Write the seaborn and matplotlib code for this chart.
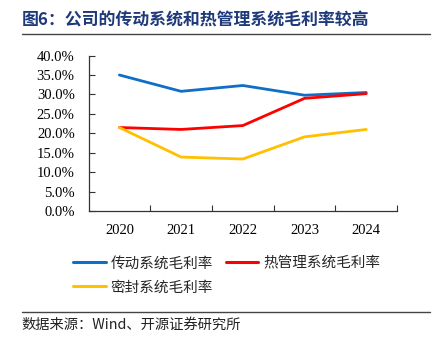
import matplotlib
matplotlib.use("Agg")
import matplotlib.pyplot as plt
from matplotlib.lines import Line2D
import pandas as pd
import seaborn as sns

years = ["2020", "2021", "2022", "2023", "2024"]
transmission = [35.0, 30.8, 32.3, 29.8, 30.5]
thermal = [21.5, 21.0, 22.0, 29.0, 30.2]
sealing = [21.5, 13.9, 13.4, 19.1, 21.0]

series_names = ["传动系统毛利率", "热管理系统毛利率", "密封系统毛利率"]
colors = ["#0F6FC6", "#FF0000", "#FFC000"]

df = pd.DataFrame({
    "year": years * 3,
    "value": [v / 100 for v in transmission + thermal + sealing],
    "series": [series_names[0]] * 5 + [series_names[1]] * 5 + [series_names[2]] * 5,
})

sns.set_theme(style="white")
plt.rcParams["font.family"] = ["Liberation Serif", "Noto Sans CJK SC", "DejaVu Sans"]

fig = plt.figure(figsize=(4.34, 3.45), dpi=100)
ax = fig.add_axes([0.204, 0.388, 0.711, 0.451])

sns.lineplot(data=df, x="year", y="value", hue="series", palette=colors,
             hue_order=series_names, linewidth=2.0, ax=ax, legend=False, sort=False)

ax.set_xlim(-0.5, 4.5)
ax.set_ylim(0, 0.4)
ax.set_yticks([i * 0.05 for i in range(9)])
ax.set_yticklabels([f"{i * 5:.1f}%" for i in range(9)], fontsize=10.5,
                   family="Liberation Serif")
ax.set_xticks(range(5))
ax.set_xticklabels(years, fontsize=10.5, family="Liberation Serif")
ax.set_xticks([0.5, 1.5, 2.5, 3.5, 4.5], minor=True)
ax.tick_params(axis="x", which="major", length=0, pad=9, colors="black")
ax.tick_params(axis="x", which="minor", direction="in", length=4, width=0.8,
               color="#333333", bottom=True)
ax.tick_params(axis="y", direction="in", length=4, width=0.8, color="#333333",
               left=True, pad=10, labelcolor="black")
ax.set_xlabel("")
ax.set_ylabel("")
for side in ("top", "right"):
    ax.spines[side].set_visible(False)
for side in ("left", "bottom"):
    ax.spines[side].set_color("#333333")
    ax.spines[side].set_linewidth(0.9)

# legend fills column-wise: blue/yellow in column one, red in column two
order = [0, 2, 1]
handles = [Line2D([0], [0], color=colors[i], lw=2.2) for i in order]
labels = [series_names[i] for i in order]
fig.legend(handles, labels, ncol=2, loc="upper left",
           bbox_to_anchor=(0.139, 0.295), frameon=False,
           prop={"family": "Noto Sans CJK SC", "size": 10.5},
           handlelength=2.2, handletextpad=0.35, columnspacing=0.9,
           labelspacing=0.7)

fig.text(0.05, 0.94, "图6：公司的传动系统和热管理系统毛利率较高",
         fontsize=12.2, fontweight="bold", color="#1F3A7A",
         family=["Noto Sans CJK SC"], va="center", ha="left")
fig.add_artist(Line2D([0.05, 0.99], [0.901, 0.901], color="#444444", lw=1.0))
fig.add_artist(Line2D([0.05, 0.99], [0.096, 0.096], color="#444444", lw=1.0))
fig.text(0.05, 0.058, "数据来源：Wind、开源证券研究所", fontsize=10.3,
         color="#222222", family=["Noto Sans CJK SC", "Liberation Serif"],
         va="center", ha="left")

fig.savefig("out.png", dpi=100)
